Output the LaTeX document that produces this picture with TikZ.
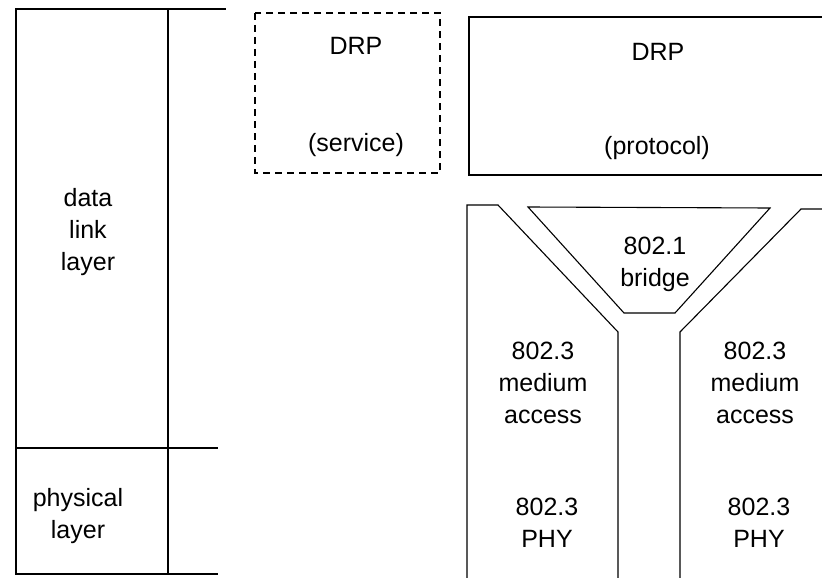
\documentclass[tikz,border=0pt]{standalone}
\usepackage{fontspec}
\setmainfont{Liberation Sans}
\usepackage{tikz}

\begin{document}
\begin{tikzpicture}[
  x=1pt,y=-1pt,
  font=\fontsize{25}{32}\selectfont,
  line width=1.1pt,
  lbl/.style={align=center,inner sep=0pt},
  svcbox/.style={draw,dash pattern=on 7pt off 5pt},
  layer/.style={draw,line join=miter}
]
\useasboundingbox (0,0) rectangle (822,578);

% OSI layers column
\draw[layer] (16,9) rectangle (168,574);
\draw (168,9) -- (226,9);
\draw (16,448) -- (218,448);
\draw (168,574) -- (218,574);
\node[lbl] (dll) at (88,232) {data\\link\\layer};
\node[lbl] (phy) at (78,516) {physical\\layer};

% DRP service and protocol
\draw[svcbox] (255,13) rectangle (440,173);
\node[lbl] (svcdrp) at (356,46) {DRP};
\node[lbl] (svcname) at (356,145) {(service)};
\draw[layer] (822,17) -- (469,17) -- (469,175) -- (822,175);
\node[lbl] (protodrp) at (658,52) {DRP};
\node[lbl] (protoname) at (657,148) {(protocol)};

% bridge and the two 802.3 stacks
\draw[layer] (528,207) -- (770,208) -- (675,313) -- (624,313) -- cycle;
\node[lbl] (bridge) at (655,264) {802.1\\bridge};
\draw[layer] (467,578) -- (467,205) -- (498,205) -- (618,332) -- (618,578);
\draw[layer] (822,209) -- (801,209) -- (680,332) -- (680,578);
\node[lbl] (macL) at (543,383) {802.3\\medium\\access};
\node[lbl] (phyL) at (547,523) {802.3\\PHY};
\node[lbl] (macR) at (755,383) {802.3\\medium\\access};
\node[lbl] (phyR) at (759,523) {802.3\\PHY};
\end{tikzpicture}
\end{document}
